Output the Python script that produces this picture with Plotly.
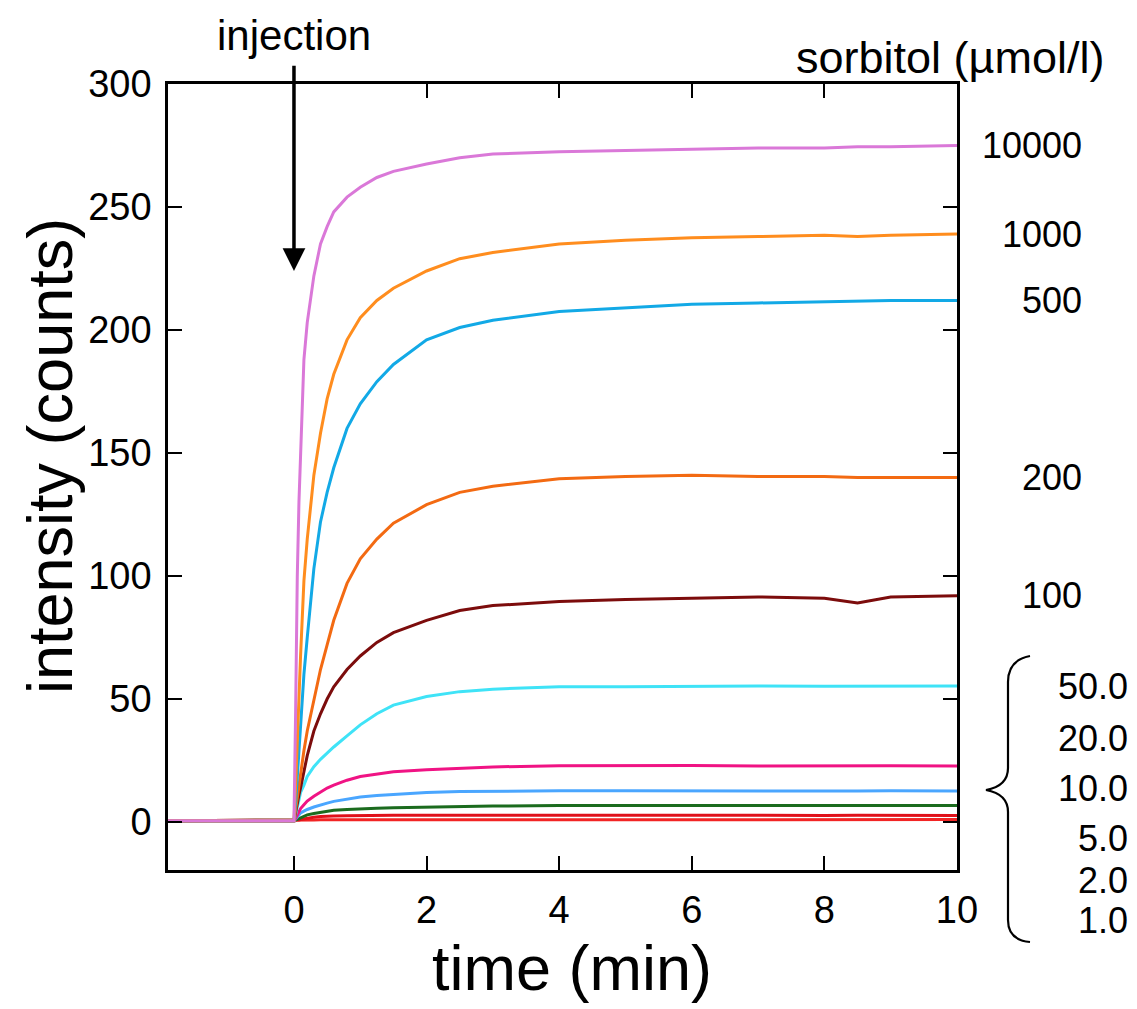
import plotly.graph_objects as go

t = [-1.9, -1.0, 0.0, 0.025, 0.05, 0.075, 0.1, 0.15, 0.2, 0.3, 0.4, 0.5, 0.6, 0.8,
     1.0, 1.25, 1.5, 2.0, 2.5, 3.0, 4.0, 5.0, 6.0, 7.0, 8.0, 8.5, 9.0, 10.0]

# intensity (counts) per sorbitol concentration
i_10000 = [0.5, 0.5, 0.5, 45, 100, 130, 152, 188, 203, 222, 235, 242, 248, 254,
           258, 262, 264.5, 267.5, 270, 271.5, 272.5, 273, 273.5, 274, 274, 274.5, 274.5, 275]
i_1000 = [0.5, 0.5, 0.5, 15, 35, 52, 68, 98, 115, 141, 158, 172, 182, 196,
          205, 212, 217, 224, 229, 231.5, 235, 236.5, 237.5, 238, 238.5, 238, 238.5, 239]
i_500 = [0.5, 0.5, 0.5, 8, 18, 28, 37, 60, 75, 103, 122, 134, 144, 160,
         170, 179, 186, 196, 201, 204, 207.5, 209, 210.5, 211, 211.5, 211.5, 212, 212]
i_200 = [0.5, 0.5, 0.5, 5, 10, 15, 20, 29, 37, 50, 62, 72, 82, 97,
         107, 115, 121.5, 129, 134, 136.5, 139.5, 140.5, 141, 140.5, 140.5, 140, 140, 140]
i_100 = [0.5, 0.5, 0.5, 4, 8, 11, 14, 21, 27, 37, 44, 50, 55, 62,
         67.5, 73, 77, 82, 86, 88, 89.6, 90.5, 91, 91.5, 91, 89, 91.5, 92]
i_50 = [0.5, 0.5, 0.5, 3, 6, 9, 12, 15, 18.5, 22.5, 25.5, 28, 30.5, 35,
        39.5, 44, 47.5, 51, 53, 54, 55, 55, 55.2, 55.3, 55.2, 55.3, 55.4, 55.3]
i_20 = [0.5, 0.5, 0.5, 1.5, 3, 4.3, 5.5, 7, 8.5, 10.5, 12.3, 13.8, 15, 17,
        18.5, 19.6, 20.4, 21.2, 21.8, 22.4, 22.9, 23, 23, 22.8, 22.9, 22.8, 22.9, 22.8]
i_10 = [0.5, 0.5, 0.5, 1.2, 2.2, 3, 3.7, 4.4, 5.1, 6.1, 7, 7.7, 8.4, 9.4,
        10.2, 10.8, 11.3, 12, 12.4, 12.6, 12.7, 12.7, 12.6, 12.7, 12.6, 12.6, 12.7, 12.6]
i_5 = [0.5, 0.5, 0.5, 0.8, 1.1, 1.4, 1.8, 2.4, 2.9, 3.5, 4.0, 4.5, 4.8, 5.1,
       5.4, 5.6, 5.8, 6.1, 6.3, 6.5, 6.7, 6.7, 6.6, 6.8, 6.7, 6.6, 6.7, 6.7]
i_2 = [0.5, 0.5, 0.5, 0.6, 0.7, 0.8, 1.0, 1.3, 1.5, 1.9, 2.2, 2.4, 2.5, 2.6,
       2.7, 2.7, 2.8, 2.8, 2.7, 2.8, 2.8, 2.7, 2.8, 2.8, 2.7, 2.8, 2.8, 2.7]
i_1 = [0.5, 0.5, 0.5, 0.5, 0.5, 0.6, 0.6, 0.7, 0.7, 0.8, 0.9, 0.9, 1.0, 1.0,
       1.0, 1.0, 1.0, 1.0, 1.1, 1.0, 1.0, 1.0, 1.1, 1.0, 1.0, 1.0, 1.1, 1.0]

top_labels = ["10000", "1000", "500", "200", "100"]
low_labels = ["50.0", "20.0", "10.0", "5.0", "2.0", "1.0"]

series = [
    ("1.0", i_1, "#f22424"),
    ("2.0", i_2, "#e0101a"),
    ("5.0", i_5, "#1b6b1e"),
    ("10.0", i_10, "#4aa6ff"),
    ("20.0", i_20, "#f01384"),
    ("50.0", i_50, "#3fe3f7"),
    ("100", i_100, "#7c0c0c"),
    ("200", i_200, "#f36a12"),
    ("500", i_500, "#12a9e6"),
    ("1000", i_1000, "#ff8d1e"),
    ("10000", i_10000, "#da78d8"),
]

FONT = "Liberation Sans, Arial, sans-serif"

fig = go.Figure()
for name, vals, col in series:
    fig.add_trace(go.Scatter(x=t, y=vals, mode="lines", name=name,
                             line=dict(color=col, width=3), showlegend=False))

# plot area as seen on screen: l=168 r=957 t=84 b=870 ; page body adds 8px offset
OFF = 8
L, R, T, B = 168, 957, 84, 870
W, H = 1137 - OFF, 1009 - OFF
def px(X, Y):
    return (X - L) / (R - L), (B - Y) / (B - T)

def txt(s, X, Y, size, anchor="center", angle=0):
    xp, yp = px(X, Y)
    return dict(text=s, xref="paper", yref="paper", x=xp, y=yp, textangle=angle,
                xanchor=anchor, yanchor="middle", showarrow=False,
                font=dict(size=size, color="black", family=FONT))

ann = []
# labels next to the plateaus of the upper curves
last = {name: vals[-1] for name, vals, col in series}
for lab in top_labels:
    ann.append(dict(text=lab, xref="paper", yref="y", x=px(1084, 0)[0], y=last[lab],
                    xanchor="right", yanchor="middle", showarrow=False,
                    font=dict(size=36, color="black", family=FONT)))
# bracketed group of low concentrations
low_y = [686, 738, 788, 838, 880, 920]
for lab, Y in zip(low_labels, low_y):
    ann.append(txt(lab, 1130, Y, 36, "right"))
ann.append(txt("sorbitol (µmol/l)", 1106, 58, 45, "right"))
ann.append(txt("time (min)", 572, 968, 63))
ann.append(txt("intensity (counts)", 50, 456, 63, angle=-90))
ann.append(dict(text="injection", xref="x", yref="paper", x=0, y=px(0, 36)[1],
                xanchor="center", yanchor="middle", showarrow=False,
                font=dict(size=42, color="black", family=FONT)))
ann.append(dict(text="", x=0, y=224, ax=0, ay=308, xref="x", yref="y",
                axref="x", ayref="y", showarrow=True, arrowhead=2,
                arrowsize=1.3, arrowwidth=3.5, arrowcolor="black"))

# curly brace
pts = [(1030, 656), (1008, 660), (1008, 682), (1008, 768), (1008, 786), (986, 790),
       (1008, 794), (1008, 812), (1008, 920), (1008, 940), (1030, 942)]
pp = [px(X, Y) for X, Y in pts]
path = ("M {0[0]} {0[1]} Q {1[0]} {1[1]} {2[0]} {2[1]} L {3[0]} {3[1]} "
        "Q {4[0]} {4[1]} {5[0]} {5[1]} Q {6[0]} {6[1]} {7[0]} {7[1]} "
        "L {8[0]} {8[1]} Q {9[0]} {9[1]} {10[0]} {10[1]}").format(*pp)
shapes = [dict(type="path", path=path, xref="paper", yref="paper",
               line=dict(color="black", width=2.2))]

axis_common = dict(showline=True, linecolor="black", linewidth=2.6, mirror="ticks",
                   ticks="inside", ticklen=14, tickwidth=2.4, tickcolor="black",
                   showgrid=False, zeroline=False, automargin=False,
                   tickfont=dict(size=38, color="black", family=FONT))

fig.update_layout(
    width=W, height=H,
    margin=dict(l=L - OFF, r=W - (R - OFF), t=T - OFF, b=H - (B - OFF)),
    plot_bgcolor="white", paper_bgcolor="white",
    xaxis=dict(range=[-1.9, 10], tickvals=[0, 2, 4, 6, 8, 10], ticklabelstandoff=5,
               **axis_common),
    yaxis=dict(range=[-19.5, 300], tickvals=[0, 50, 100, 150, 200, 250, 300],
               ticklabelstandoff=6, **axis_common),
    annotations=ann,
    shapes=shapes,
)

fig.write_html("out.html")
